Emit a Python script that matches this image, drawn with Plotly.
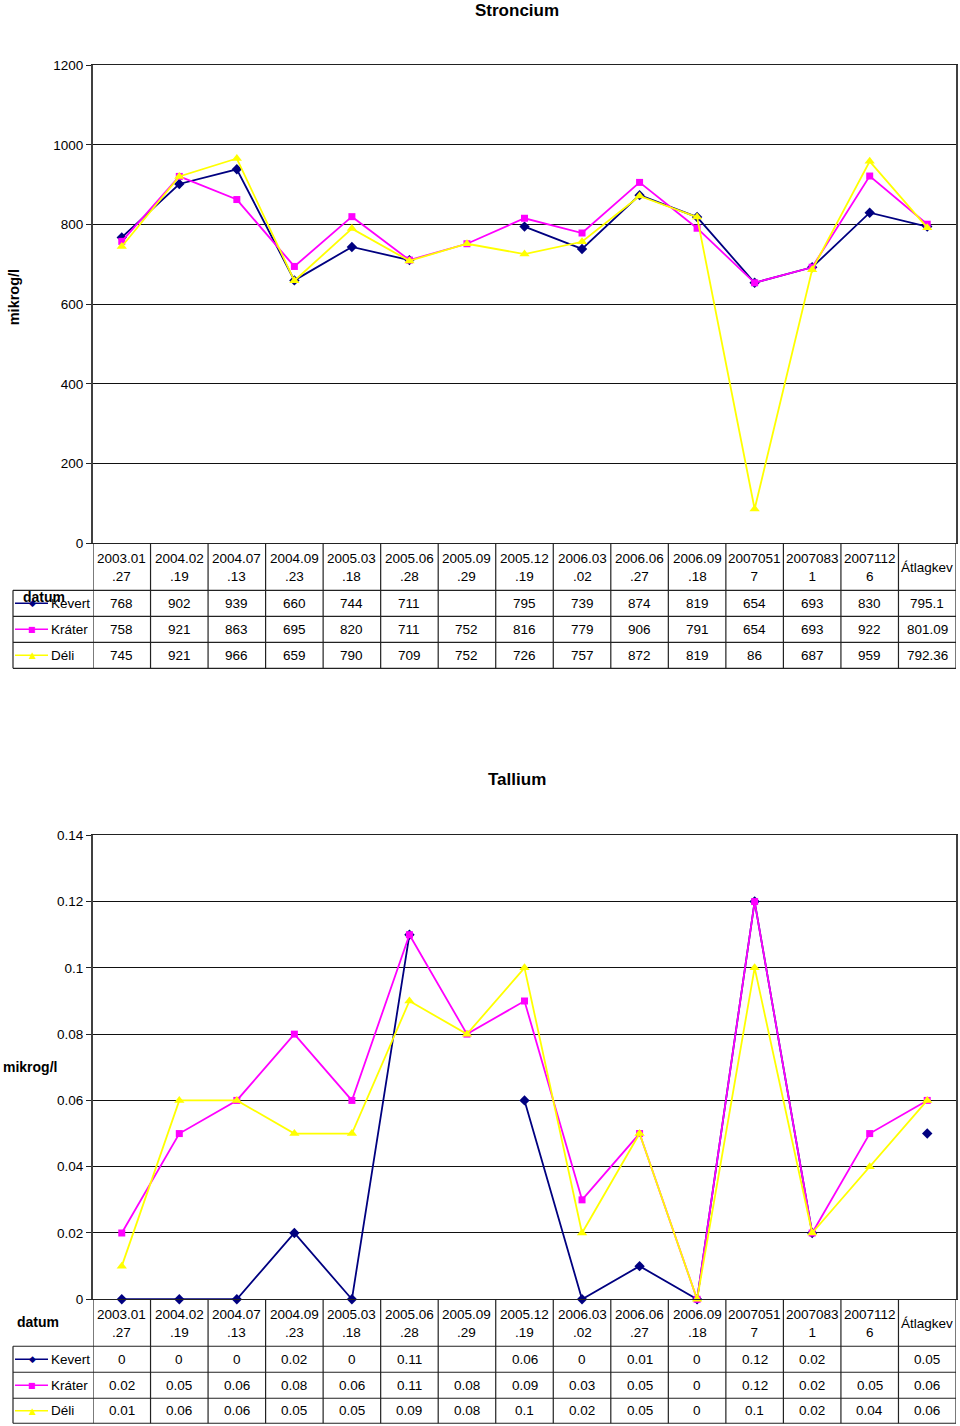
import plotly.graph_objects as go

W, H = 960, 1426
FONT = "Liberation Sans, Arial, sans-serif"

# ---------------- data ----------------
date_labels = ["2003.01<br>.27", "2004.02<br>.19", "2004.07<br>.13", "2004.09<br>.23",
               "2005.03<br>.18", "2005.06<br>.28", "2005.09<br>.29", "2005.12<br>.19",
               "2006.03<br>.02", "2006.06<br>.27", "2006.09<br>.18", "2007051<br>7",
               "2007083<br>1", "2007112<br>6", "Átlagkev"]

series_names = ["Kevert", "Kráter", "Déli"]

sr_kevert = [768, 902, 939, 660, 744, 711, None, 795, 739, 874, 819, 654, 693, 830, 795.1]
sr_krater = [758, 921, 863, 695, 820, 711, 752, 816, 779, 906, 791, 654, 693, 922, 801.09]
sr_deli = [745, 921, 966, 659, 790, 709, 752, 726, 757, 872, 819, 86, 687, 959, 792.36]

tl_kevert = [0, 0, 0, 0.02, 0, 0.11, None, 0.06, 0, 0.01, 0, 0.12, 0.02, None, 0.05]
tl_krater = [0.02, 0.05, 0.06, 0.08, 0.06, 0.11, 0.08, 0.09, 0.03, 0.05, 0, 0.12, 0.02, 0.05, 0.06]
tl_deli = [0.01, 0.06, 0.06, 0.05, 0.05, 0.09, 0.08, 0.1, 0.02, 0.05, 0, 0.1, 0.02, 0.04, 0.06]

# ---------------- styles ----------------
COLORS = ["#000080", "#FF00FF", "#FFFF00"]
SYMBOLS = ["diamond", "square", "triangle-up"]
MSIZE = [8, 7, 9]
GLYPHS = ["◆", "■", "▲"]

# the rendered page is photographed slightly squeezed vertically; compensate
SY, OY = 0.9895, 6.7


def yp(px):
    return 1 - ((px - OY) / SY) / H


def xp(px):
    return px / W


charts = [
    dict(title="Stroncium", title_y=10, top=65, bottom=543, rows=[590, 616, 642, 668],
         ymax=1200, dtick=200, data=[sr_kevert, sr_krater, sr_deli], ax="", ytitle="vertical",
         datum=(44, 597)),
    dict(title="Tallium", title_y=779, top=835, bottom=1299, rows=[1346, 1372, 1398, 1423],
         ymax=0.14, dtick=0.02, data=[tl_kevert, tl_krater, tl_deli], ax="2", ytitle="horizontal",
         datum=(38, 1322)),
]

X0, X1 = 93, 956
fig = go.Figure()
shapes = []
annotations = []
BORDER = "#222222"


def fmt(v):
    return "" if v is None else f"{v:g}"


for c in charts:
    xa = "x" + c["ax"]
    ya = "y" + c["ax"]
    for i, name in enumerate(series_names):
        fig.add_trace(go.Scatter(
            x=list(range(len(date_labels))), y=c["data"][i], mode="lines+markers",
            name=name, connectgaps=False, cliponaxis=False, showlegend=False,
            line=dict(color=COLORS[i], width=1.8),
            marker=dict(symbol=SYMBOLS[i], size=MSIZE[i], color=COLORS[i]),
            xaxis=xa, yaxis=ya))

    axkey = c["ax"]
    fig.update_layout(**{
        "xaxis" + axkey: dict(domain=[xp(X0), xp(X1)], range=[-0.5, len(date_labels) - 0.5],
                              showticklabels=False, showgrid=False, zeroline=False,
                              showline=True, linecolor="#222222", linewidth=1.3, mirror=True,
                              anchor=ya, fixedrange=True),
        "yaxis" + axkey: dict(domain=[yp(c["bottom"]), yp(c["top"])], range=[0, c["ymax"]],
                              dtick=c["dtick"], showgrid=True, gridcolor="#111111", gridwidth=1.2,
                              zeroline=False, showline=True, linecolor="#404040", linewidth=2,
                              mirror=True, ticks="outside", ticklen=5, tickcolor="#222222",
                              tickfont=dict(family=FONT, size=13.5, color="#000000"),
                              anchor=xa, fixedrange=True),
    })

    # title
    annotations.append(dict(text="<b>" + c["title"] + "</b>", x=xp(517), y=yp(c["title_y"]),
                            xref="paper", yref="paper", showarrow=False, xanchor="center",
                            yanchor="middle", font=dict(family=FONT, size=17, color="#000000")))
    # y title
    if c["ytitle"] == "vertical":
        annotations.append(dict(text="<b>mikrog/l</b>", x=xp(14), y=yp(297), xref="paper",
                                yref="paper", showarrow=False, textangle=-90, xanchor="center",
                                yanchor="middle", font=dict(family=FONT, size=14.5, color="#000000")))
    else:
        annotations.append(dict(text="<b>mikrog/l</b>", x=xp(30), y=yp(1067), xref="paper",
                                yref="paper", showarrow=False, xanchor="center",
                                yanchor="middle", font=dict(family=FONT, size=14, color="#000000")))
    # datum
    annotations.append(dict(text="<b>datum</b>", x=xp(c["datum"][0]), y=yp(c["datum"][1]),
                            xref="paper", yref="paper", showarrow=False, xanchor="center",
                            yanchor="middle", font=dict(family=FONT, size=14, color="#000000")))

    # table grid
    hdr_top = c["bottom"]
    rows = c["rows"]
    n = len(date_labels)
    for k in range(n + 1):
        shapes.append(dict(type="line", xref=xa, yref="paper", x0=k - 0.5, x1=k - 0.5,
                           y0=yp(hdr_top), y1=yp(rows[-1]), line=dict(color=BORDER, width=1.2)))
    shapes.append(dict(type="line", xref="paper", yref="paper", x0=xp(13), x1=xp(13),
                       y0=yp(rows[0]), y1=yp(rows[-1]), line=dict(color=BORDER, width=1.2)))
    for r in rows:
        shapes.append(dict(type="line", xref="paper", yref="paper", x0=xp(13), x1=xp(X1),
                           y0=yp(r), y1=yp(r), line=dict(color=BORDER, width=1.2)))

    # header labels
    for k, lab in enumerate(date_labels):
        annotations.append(dict(text=lab, x=k, y=yp((hdr_top + rows[0]) / 2 + 1), xref=xa,
                                yref="paper", showarrow=False, xanchor="center", yanchor="middle",
                                font=dict(family=FONT, size=13.5, color="#000000")))
    # rows
    for i, name in enumerate(series_names):
        cy = (rows[i] + rows[i + 1]) / 2
        shapes.append(dict(type="line", xref="paper", yref="paper", x0=xp(15), x1=xp(48),
                           y0=yp(cy), y1=yp(cy), line=dict(color=COLORS[i], width=1.5)))
        annotations.append(dict(text=GLYPHS[i], x=xp(32), y=yp(cy), xref="paper", yref="paper",
                                showarrow=False, xanchor="center", yanchor="middle",
                                font=dict(family="DejaVu Sans", size=8 if i == 1 else 9,
                                          color=COLORS[i])))
        annotations.append(dict(text=name, x=xp(49), y=yp(cy), xref="paper", yref="paper",
                                showarrow=False, xanchor="left", yanchor="middle",
                                font=dict(family=FONT, size=13.5, color="#000000")))
        for k, v in enumerate(c["data"][i]):
            annotations.append(dict(text=fmt(v), x=k, y=yp(cy), xref=xa, yref="paper",
                                    showarrow=False, xanchor="center", yanchor="middle",
                                    font=dict(family=FONT, size=13.5, color="#000000")))

fig.update_layout(width=W, height=H, margin=dict(l=0, r=0, t=0, b=0),
                  paper_bgcolor="#FFFFFF", plot_bgcolor="#FFFFFF",
                  shapes=shapes, annotations=annotations, showlegend=False)

fig.write_html("out.html", config={"displayModeBar": False},
               post_script="document.body.style.margin='0';document.body.style.padding='0';"
                           "document.documentElement.style.overflow='hidden';")
